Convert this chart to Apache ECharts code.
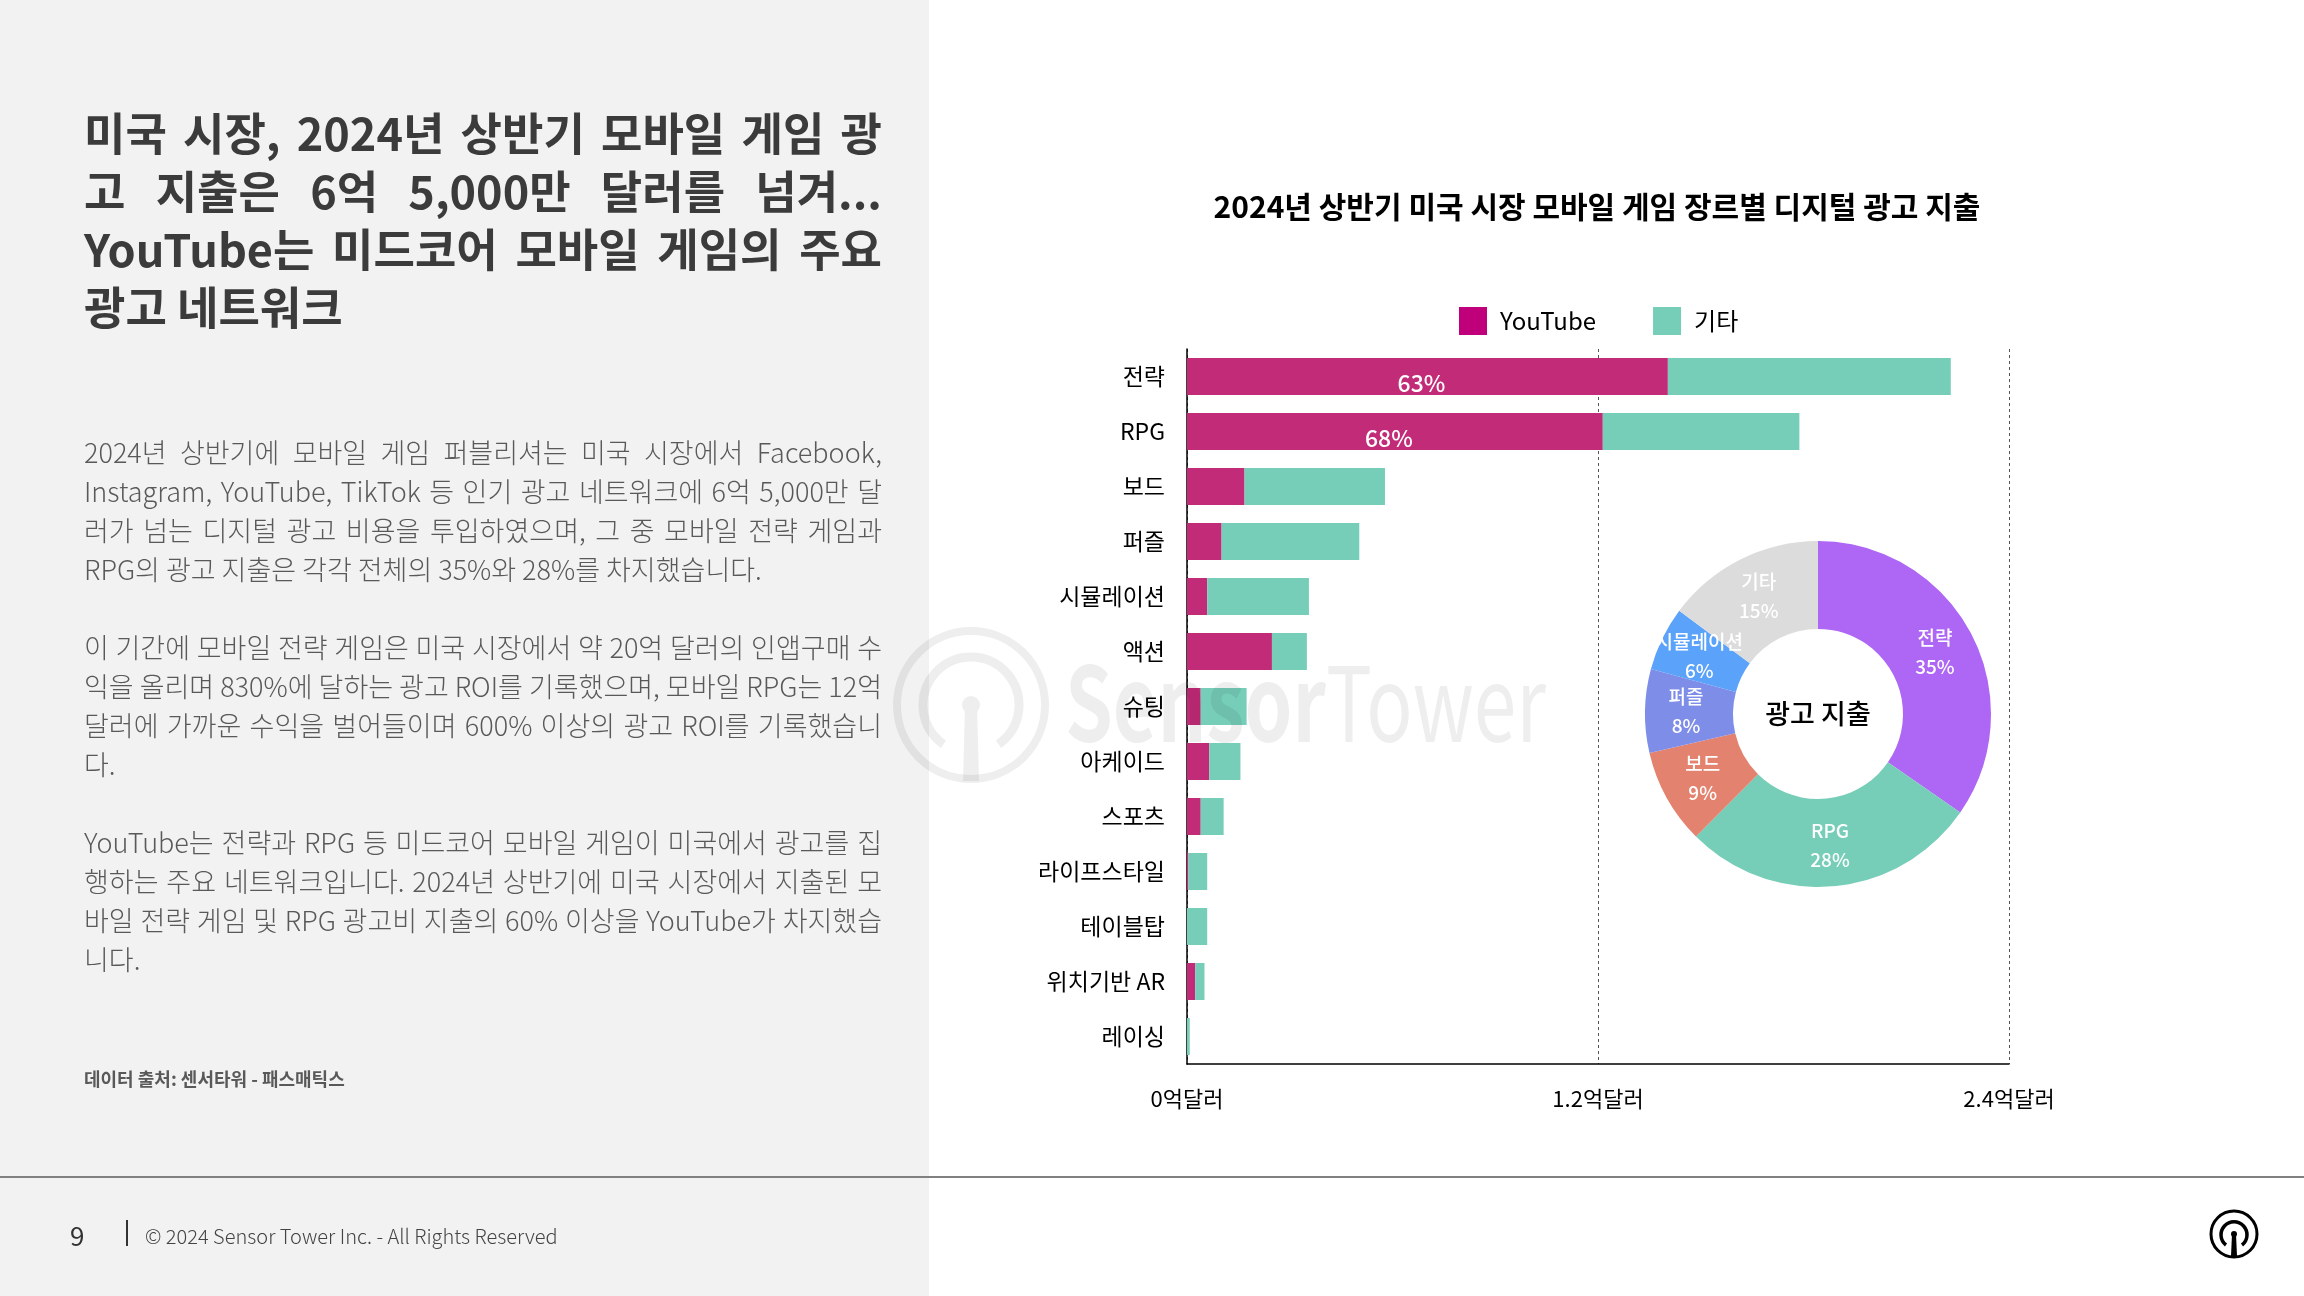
<!DOCTYPE html>
<html>
<head>
<meta charset="utf-8">
<script src="https://cdn.jsdelivr.net/npm/echarts@6/dist/echarts.min.js"></script>
<style>
html,body{margin:0;padding:0;width:2304px;height:1296px;overflow:hidden;background:#fff;font-family:"Noto Sans CJK KR","Noto Sans",sans-serif;}
#left{position:absolute;left:0;top:0;width:929px;height:1296px;background:#f2f2f2;z-index:0;}
#chart{position:absolute;left:0;top:0;width:2304px;height:1296px;z-index:1;}
#wm{position:absolute;left:0;top:0;width:2304px;height:1296px;z-index:2;pointer-events:none;}
.blk{position:absolute;z-index:3;}
.title{left:84px;top:103px;width:798px;font-size:45px;line-height:58px;font-weight:700;color:#3b3b3b;}
.para{left:84px;width:798px;font-size:27px;line-height:39px;font-weight:300;color:#595959;}
.ln{white-space:nowrap;text-align:justify;text-align-last:justify;}
.ln.last{text-align:left;text-align-last:left;}
.src{left:84px;top:1066px;font-size:18px;line-height:24px;font-weight:700;color:#595959;}
.hr{left:0;top:1176px;width:2304px;height:2px;background:#808080;}
.pg{left:70px;top:1218px;font-size:26px;line-height:34px;color:#333;}
.bar{left:126px;top:1220px;width:2px;height:26px;background:#333;}
.copy{left:145px;top:1222px;font-size:20px;line-height:28px;font-weight:300;color:#444;}
</style>
</head>
<body>
<div id="left"></div>
<div class="blk title">
  <div class="ln">미국 시장, 2024년 상반기 모바일 게임 광</div>
  <div class="ln">고 지출은 6억 5,000만 달러를 넘겨...</div>
  <div class="ln">YouTube는 미드코어 모바일 게임의 주요</div>
  <div class="ln last">광고 네트워크</div>
</div>
<div class="blk para" style="top:432px">
  <div class="ln">2024년 상반기에 모바일 게임 퍼블리셔는 미국 시장에서 Facebook,</div>
  <div class="ln">Instagram, YouTube, TikTok 등 인기 광고 네트워크에 6억 5,000만 달</div>
  <div class="ln">러가 넘는 디지털 광고 비용을 투입하였으며, 그 중 모바일 전략 게임과</div>
  <div class="ln last">RPG의 광고 지출은 각각 전체의 35%와 28%를 차지했습니다.</div>
</div>
<div class="blk para" style="top:627px">
  <div class="ln">이 기간에 모바일 전략 게임은 미국 시장에서 약 20억 달러의 인앱구매 수</div>
  <div class="ln">익을 올리며 830%에 달하는 광고 ROI를 기록했으며, 모바일 RPG는 12억</div>
  <div class="ln">달러에 가까운 수익을 벌어들이며 600% 이상의 광고 ROI를 기록했습니</div>
  <div class="ln last">다.</div>
</div>
<div class="blk para" style="top:822px">
  <div class="ln">YouTube는 전략과 RPG 등 미드코어 모바일 게임이 미국에서 광고를 집</div>
  <div class="ln">행하는 주요 네트워크입니다. 2024년 상반기에 미국 시장에서 지출된 모</div>
  <div class="ln">바일 전략 게임 및 RPG 광고비 지출의 60% 이상을 YouTube가 차지했습</div>
  <div class="ln last">니다.</div>
</div>
<div class="blk src">데이터 출처: 센서타워 - 패스매틱스</div>
<div class="blk hr"></div>
<div class="blk pg">9</div>
<div class="blk bar"></div>
<div class="blk copy">© 2024 Sensor Tower Inc. - All Rights Reserved</div>
<div id="chart"></div>
<svg id="wm" width="2304" height="1296" xmlns="http://www.w3.org/2000/svg">
  <g opacity="0.065" fill="none" stroke="#000">
    <circle cx="971" cy="705" r="74" stroke-width="8"/>
    <path d="M 943.5 744.3 A 48 48 0 1 1 998.5 744.3" stroke-width="9"/>
  </g>
  <g opacity="0.065" fill="#000">
    <circle cx="971" cy="705" r="9"/>
    <polygon points="965,705 977,705 979,781 963,781"/>
    <text x="1065" y="742" font-size="104" textLength="481" lengthAdjust="spacingAndGlyphs" font-family="Noto Sans CJK KR"><tspan font-weight="700">Sensor</tspan><tspan font-weight="400">Tower</tspan></text>
  </g>
  <g fill="none" stroke="#000">
    <circle cx="2234" cy="1234" r="23" stroke-width="3"/>
    <path d="M 2226 1245 A 13 13 0 1 1 2242 1245" stroke-width="3.5"/>
  </g>
  <g fill="#000">
    <circle cx="2234" cy="1234" r="3"/>
    <polygon points="2232,1234 2236,1234 2237,1256 2231,1256"/>
  </g>
</svg>
<script>
// ---- data ----
const categories = ['전략','RPG','보드','퍼즐','시뮬레이션','액션','슈팅','아케이드','스포츠','라이프스타일','테이블탑','위치기반 AR','레이싱'];
const youtubeSpend = [1.404,1.214,0.168,0.101,0.059,0.248,0.040,0.065,0.040,0.004,0,0.024,0];
const otherSpend = [0.826,0.574,0.410,0.402,0.297,0.102,0.134,0.091,0.067,0.055,0.059,0.027,0.008];
const youtubeShareLabels = ['63%','68%','','','','','','','','','','',''];
const seriesNames = ['YouTube','기타'];
const xTickValues = [0,1.2,2.4];
const xTickLabels = ['0억달러','1.2억달러','2.4억달러'];
const donutNames = ['전략','RPG','보드','퍼즐','시뮬레이션','기타'];
const donutValues = [34.6,27.8,8.9,7.8,6.0,14.8];
const donutLabels = ['35%','28%','9%','8%','6%','15%'];
const chartTitle = '2024년 상반기 미국 시장 모바일 게임 장르별 디지털 광고 지출';
const donutCenterText = '광고 지출';

// ---- styles ----
const FONT = '"Noto Sans CJK KR","Noto Sans",sans-serif';
const barColors = ['#C22B78','#76CDB8'];
const legendColors = ['#C0007A','#76CDB8'];
const donutColors = ['#AE66F5','#76CDB8','#E3836F','#7E8DE8','#5AA2FA','#DCDCDC'];

const chart = echarts.init(document.getElementById('chart'), null, {renderer:'canvas'});
const option = {
  animation:false,
  backgroundColor:'transparent',
  textStyle:{fontFamily:FONT},
  title:{
    text:chartTitle, left:1597, top:192, textAlign:'center', padding:0,
    textStyle:{fontSize:30, fontWeight:'bold', color:'#000', fontFamily:FONT}
  },
  legend:{
    left:1459, top:307, padding:0, itemWidth:28, itemHeight:28, itemGap:57, icon:'rect',
    data:seriesNames.map((n,i)=>({name:n, itemStyle:{color:legendColors[i]}})),
    textStyle:{fontSize:24, color:'#000', padding:[0,0,0,8], fontFamily:FONT},
    selectedMode:false
  },
  grid:{left:1187, top:349, width:822, height:715, containLabel:false, outerBoundsMode:'none'},
  xAxis:{
    type:'value', min:0, max:2.4, interval:1.2,
    axisLine:{show:true, lineStyle:{color:'#000', width:1.5}},
    axisTick:{show:false},
    splitLine:{show:true, lineStyle:{type:[3,3], color:'#555', width:1}},
    axisLabel:{fontSize:22, color:'#000', margin:24, fontFamily:FONT,
      formatter:v=>{let k=0,b=1e9;xTickValues.forEach((t,i)=>{const d=Math.abs(t-v);if(d<b){b=d;k=i;}});return xTickLabels[k];}}
  },
  yAxis:{
    type:'category', inverse:true, data:categories,
    axisLine:{show:true, lineStyle:{color:'#000', width:1.5}},
    axisTick:{show:false},
    splitLine:{show:false},
    axisLabel:{fontSize:23, color:'#000', margin:22, fontFamily:FONT}
  },
  series:[
    {name:seriesNames[0], type:'bar', stack:'total', data:youtubeSpend, barWidth:37,
      itemStyle:{color:barColors[0]}, silent:true,
      label:{show:true, position:'inside', offset:[-6,7], color:'#fff', fontSize:23, fontWeight:500, fontFamily:FONT,
        formatter:p=>youtubeShareLabels[p.dataIndex]}},
    {name:seriesNames[1], type:'bar', stack:'total', data:otherSpend, barWidth:37,
      itemStyle:{color:barColors[1]}, silent:true},
    {name:'donut', type:'pie', center:[1818,714], radius:[85,173], startAngle:90, clockwise:true,
      silent:true, avoidLabelOverlap:false, legendHoverLink:false,
      labelLayout:{hideOverlap:false},
      data:donutNames.map((n,i)=>({name:n, value:donutValues[i], itemStyle:{color:donutColors[i]}})),
      label:{show:true, position:'inside', color:'#fff', fontSize:19, lineHeight:29, fontWeight:500, fontFamily:FONT,
        formatter:p=>p.name+'\n'+donutLabels[p.dataIndex]},
      labelLine:{show:false}, emphasis:{disabled:true}}
  ],
  graphic:[
    {type:'text', x:1818, y:714, silent:true, z:10,
      style:{text:donutCenterText, fontSize:27, fontWeight:500, fill:'#000', align:'center', verticalAlign:'middle', fontFamily:FONT}}
  ]
};
chart.setOption(option);
</script>
</body>
</html>
